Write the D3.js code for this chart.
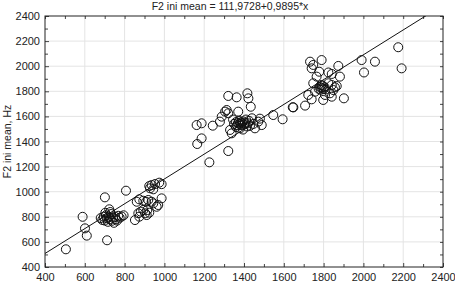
<!DOCTYPE html>
<html>
<head>
<meta charset="utf-8">
<script src="https://cdn.jsdelivr.net/npm/d3@7"></script>
<style>
  body { margin: 0; background: #fff; }
  text { font-family: Arial, "Liberation Sans", sans-serif; }
</style>
</head>
<body>
<div id="chart"></div>
<script>
// F2 start (x) and F2 ini mean (y)
var f2Start = [
  505, 589, 601, 610, 701, 723, 712, 807,
  680, 688, 695, 700, 706, 710, 716, 720, 726, 732, 736, 742, 746, 752, 756, 762, 768, 775, 785, 795, 703, 728,
  924, 936, 953, 974, 986, 928, 944, 861, 874, 894, 908, 919, 936, 944, 961, 969, 986, 869, 881, 894, 903, 914, 924, 852, 874, 911,
  1226, 1321, 1162, 1187, 1243, 1165, 1187, 1279, 1288, 1305, 1313, 1321, 1321, 1363, 1417, 1422, 1434, 1371, 1330, 1338, 1447, 1480, 1489, 1455, 1472,
  1350, 1360, 1365, 1370, 1375, 1378, 1382, 1385, 1390, 1395, 1400, 1405, 1410, 1415, 1420, 1360, 1380, 1395, 1425, 1430, 1345, 1440,
  1547, 1594, 1645,
  1732, 1748, 1740, 1790, 1874, 1778, 1824, 1841, 1882, 1765, 1748, 1757, 1723, 1740, 1824, 1841, 1857, 1866, 1849, 1832, 1807, 1798, 1841, 1902,
  1991, 2058, 2003, 2175, 2192, 1648, 1707,
  1775, 1780, 1785, 1790, 1795, 1800, 1805, 1788, 1810
];
var f2IniMean = [
  541, 800, 708, 650, 955, 860, 613, 1008,
  790, 775, 800, 770, 812, 788, 760, 800, 780, 822, 768, 792, 752, 800, 780, 770, 808, 792, 802, 812, 832, 838,
  1045, 1053, 1061, 1072, 1060, 1027, 1019, 920, 939, 928, 920, 934, 920, 907, 880, 894, 947, 828, 841, 854, 828, 854, 833, 774, 801, 814,
  1234, 1324, 1531, 1545, 1526, 1380, 1425, 1558, 1598, 1638, 1651, 1625, 1763, 1752, 1784, 1744, 1677, 1638, 1492, 1465, 1540, 1582, 1531, 1505, 1558,
  1540, 1555, 1530, 1548, 1565, 1540, 1552, 1530, 1545, 1560, 1535, 1550, 1575, 1520, 1545, 1515, 1505, 1495, 1565, 1525, 1575, 1585,
  1611, 1577, 1673,
  2036, 2010, 1983, 2049, 2002, 1956, 1950, 1938, 1917, 1917, 1864, 1797, 1771, 1736, 1864, 1850, 1832, 1842, 1810, 1784, 1771, 1731, 1757, 1744,
  2049, 2036, 1950, 2151, 1983, 1672, 1686,
  1820, 1835, 1812, 1828, 1845, 1818, 1832, 1850, 1815
];

var titleText = "F2 ini mean = 111,9728+0,9895*x";
var yLabel = "F2 ini mean, Hz";
var intercept = 111.9728, slope = 0.9895;
var majorTicks = [400, 600, 800, 1000, 1200, 1400, 1600, 1800, 2000, 2200, 2400];
var minorTicks = [500, 700, 900, 1100, 1300, 1500, 1700, 1900, 2100, 2300];

var margin = {top: 16, right: 12, bottom: 15, left: 45},
    width = 455 - margin.left - margin.right,
    height = 282 - margin.top - margin.bottom;

var root = d3.select("#chart").append("svg")
    .attr("width", 455)
    .attr("height", 282);

var svg = root.append("g")
    .attr("transform", "translate(" + margin.left + "," + margin.top + ")");

var x = d3.scaleLinear().domain([400, 2400]).range([0, width]);
var y = d3.scaleLinear().domain([400, 2400]).range([height, 0]);

// grid
svg.append("g").selectAll("line.gx")
  .data(majorTicks.slice(1, -1))
  .enter().append("line")
    .attr("x1", d => x(d)).attr("x2", d => x(d))
    .attr("y1", 0).attr("y2", height)
    .attr("stroke", "#e4e4e4").attr("stroke-width", 1);
svg.append("g").selectAll("line.gy")
  .data(majorTicks.slice(1, -1))
  .enter().append("line")
    .attr("y1", d => y(d)).attr("y2", d => y(d))
    .attr("x1", 0).attr("x2", width)
    .attr("stroke", "#e4e4e4").attr("stroke-width", 1);

// axes with inward ticks
function styleAxis(g) {
  g.select(".domain").remove();
  g.selectAll("text").attr("font-size", "11px").attr("fill", "#222");
  g.selectAll("line").attr("stroke", "#444");
}
svg.append("g")
  .call(d3.axisLeft(y).tickValues(majorTicks).tickSize(-4).tickPadding(5).tickFormat(d3.format("d")))
  .call(styleAxis);
svg.append("g")
  .call(d3.axisLeft(y).tickValues(minorTicks).tickSize(-3).tickFormat(""))
  .call(styleAxis);
svg.append("g")
  .attr("transform", "translate(0," + height + ")")
  .call(d3.axisBottom(x).tickValues(majorTicks).tickSize(-4).tickPadding(6).tickFormat(d3.format("d")))
  .call(styleAxis);
svg.append("g")
  .attr("transform", "translate(0," + height + ")")
  .call(d3.axisBottom(x).tickValues(minorTicks).tickSize(-3).tickFormat(""))
  .call(styleAxis);
svg.append("g")
  .call(d3.axisTop(x).tickValues(majorTicks.concat(minorTicks)).tickSize(-3).tickFormat(""))
  .call(styleAxis);
svg.append("g")
  .attr("transform", "translate(" + width + ",0)")
  .call(d3.axisRight(y).tickValues(majorTicks.concat(minorTicks)).tickSize(-3).tickFormat(""))
  .call(styleAxis);

// frame
svg.append("rect")
  .attr("width", width).attr("height", height)
  .attr("fill", "none").attr("stroke", "#222").attr("stroke-width", 1);

// clip for regression line
svg.append("clipPath").attr("id", "clip")
  .append("rect").attr("width", width).attr("height", height);

svg.append("line")
  .attr("clip-path", "url(#clip)")
  .attr("x1", x(400)).attr("y1", y(intercept + slope * 400))
  .attr("x2", x(2400)).attr("y2", y(intercept + slope * 2400))
  .attr("stroke", "#111").attr("stroke-width", 1);

// points
svg.append("g").selectAll("circle")
  .data(f2Start.map((d, i) => [d, f2IniMean[i]]))
  .enter().append("circle")
    .attr("cx", d => x(d[0]))
    .attr("cy", d => y(d[1]))
    .attr("r", 4.5)
    .attr("fill", "none")
    .attr("stroke", "#111")
    .attr("stroke-width", 1);

// title
root.append("text")
  .attr("x", 230).attr("y", 10)
  .attr("text-anchor", "middle")
  .attr("font-size", "10.5px")
  .attr("fill", "#222")
  .text(titleText);

// y label
root.append("text")
  .attr("transform", "translate(11," + (margin.top + height / 2) + ") rotate(-90)")
  .attr("text-anchor", "middle")
  .attr("font-size", "10.5px")
  .attr("fill", "#222")
  .text(yLabel);
</script>
</body>
</html>
